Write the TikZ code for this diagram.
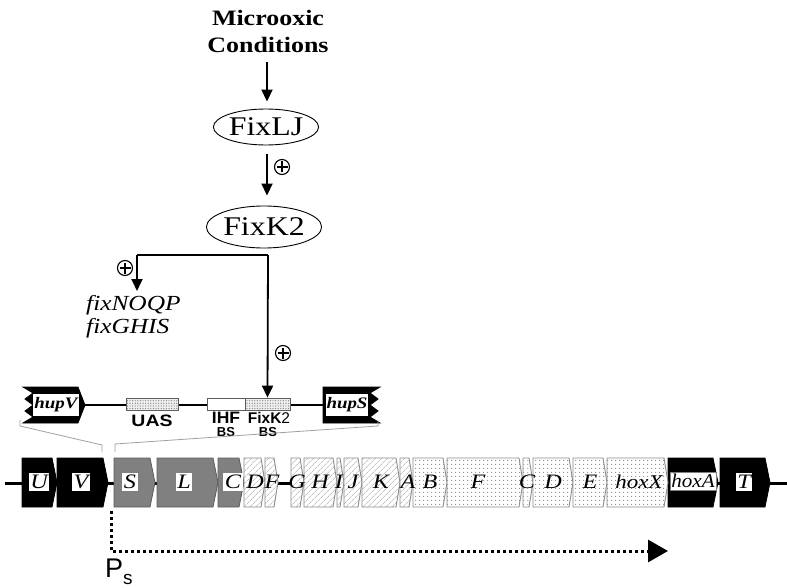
\documentclass[tikz,border=0pt]{standalone}
\usepackage{graphicx}
\usepackage{fontspec}
\setmainfont{Liberation Serif}
\setsansfont{Liberation Sans}
\usetikzlibrary{shapes.geometric,arrows.meta,patterns.meta}
\newcommand{\hs}[1]{\scalebox{1.18}[1]{#1}}
\newcommand{\hsa}[1]{\scalebox{1.06}[1]{#1}}
\definecolor{genegray}{HTML}{808080}
\definecolor{edgegray}{HTML}{5C5C5C}
\definecolor{lightedge}{HTML}{8C8C8C}
\begin{document}
\begin{tikzpicture}[x=1pt,y=-1pt,
  arr/.style={line width=1.8pt, -{Triangle[length=12pt,width=11pt]}},
  conn/.style={line width=1.8pt},
  zoomline/.style={draw=gray!75, line width=0.8pt},
  oplus/.style={circle, draw, line width=1.1pt, minimum size=15pt, inner sep=0pt,
    path picture={\draw[line width=1.1pt]
      ([yshift=-5.5pt]path picture bounding box.center) -- ([yshift=5.5pt]path picture bounding box.center)
      ([xshift=-5.5pt]path picture bounding box.center) -- ([xshift=5.5pt]path picture bounding box.center);}},
  protein/.style={ellipse, draw, line width=0.9pt, inner sep=0pt, font=\fontsize{27}{27}\selectfont},
  blackgene/.style={fill=black, draw=black, line width=0.8pt},
  graygene/.style={fill=genegray, draw=edgegray, line width=0.8pt},
  hatchgene/.style={draw=lightedge, line width=0.9pt, preaction={fill=white},
    pattern={Lines[angle=45,distance=4pt,line width=0.55pt]}, pattern color=gray!70},
  dotgene/.style={draw=lightedge, line width=0.9pt, preaction={fill=white},
    pattern={Dots[distance=4pt,radius=0.65pt]}, pattern color=gray!90},
  boxlab/.style={fill=white, inner sep=1.5pt, minimum height=18pt, text height=14pt, text depth=1pt,
    font=\fontsize{20.5}{20.5}\selectfont\itshape},
  freelab/.style={inner sep=0pt, font=\fontsize{20.5}{20.5}\selectfont\itshape},
  hoxlab/.style={font=\fontsize{19.5}{19.5}\selectfont\itshape},
  huplab/.style={fill=white, inner sep=1pt, minimum width=38pt, minimum height=22pt,
    font=\fontsize{16}{16}\selectfont\bfseries\itshape},
  siteslab/.style={inner sep=0pt, font=\sffamily\bfseries\fontsize{16.5}{16.5}\selectfont},
  bslab/.style={inner sep=0pt, font=\sffamily\bfseries\fontsize{13}{13}\selectfont},
  sitebox/.style={rectangle, draw=edgegray, line width=0.8pt, minimum height=12pt, inner sep=0pt},
  dotline/.style={line width=3pt, dash pattern=on 3pt off 3pt, -{Triangle[length=20pt,width=22pt,sep=0pt]}}
]
\useasboundingbox (0,0) rectangle (787,588);

% ---------- regulatory cascade ----------
\node[align=center, inner sep=0pt, font=\bfseries\fontsize{22}{27}\selectfont] (cond) at (268,31)
  {\hs{Microoxic}\\\hs{Conditions}};
\node[protein, minimum width=102pt, minimum height=36pt] (fixLJ) at (266,127) {\hs{FixLJ}};
\node[protein, minimum width=98pt, minimum height=42pt] (fixK2) at (264,227) {\hs{FixK2}};

\draw[arr, shorten <=10pt, shorten >=7pt] (cond.south -| 267,0) -- (fixLJ.north -| 267,0);
\draw[arr, shorten <=9pt, shorten >=10pt] (fixLJ.south -| 267,0) -- (fixK2.north -| 267,0);
\node[oplus] (plus1) at (282,167) {};

\coordinate (k2br) at (268,255);
\coordinate (k2bl) at (137,255);
\coordinate (noqpTop) at (137,291);
\draw[conn] (k2br) -- (k2bl);
\draw[arr] (k2bl) -- (noqpTop);
\node[oplus] (plus2) at (125,268) {};
\node[anchor=west, inner sep=0pt, font=\itshape\fontsize{21.5}{21.5}\selectfont] (noqp) at (86,305) {\hs{fixNOQP}};
\node[anchor=west, inner sep=0pt, font=\itshape\fontsize{21.5}{21.5}\selectfont] (ghis) at (86,328) {\hs{fixGHIS}};

% ---------- promoter region ----------
\coordinate (hupVtip) at (85,405);
\coordinate (hupSleft) at (323,405);
\draw[line width=1.8pt] (hupVtip) -- (hupSleft);

\path[blackgene] (23,387) -- (78,387) -- (85,405) -- (78,423) -- (23,423) -- (33,417) -- (25,411)
  -- (33,405) -- (25,399) -- (33,393) -- cycle;
\node[huplab] (hupV) at (56,405) {\hs{hupV}};
\path[blackgene] (323,387) -- (380,387) -- (370,393) -- (378,399) -- (370,405) -- (378,411)
  -- (370,417) -- (380,423) -- (323,423) -- cycle;
\node[huplab] (hupS) at (347,405) {\hs{hupS}};

\node[sitebox, minimum width=52pt, preaction={fill=gray!12},
  pattern={Dots[distance=2.6pt,radius=0.7pt]}, pattern color=gray!90] (uas) at (152,404) {};
\node[sitebox, minimum width=38pt, fill=white] (ihf) at (226,404) {};
\node[sitebox, minimum width=45pt, preaction={fill=gray!12},
  pattern={Dots[distance=2.6pt,radius=0.7pt]}, pattern color=gray!90] (fk2bs) at (267.5,404) {};

\node[siteslab] (uasT) at (152,421) {\hs{UAS}};
\node[siteslab] (ihfT) at (226,418) {\hsa{IHF}};
\node[bslab] (ihfB) at (226,432) {BS};
\node[siteslab, font=\sffamily\bfseries\fontsize{15.5}{15.5}\selectfont] (fkT) at (269,418) {FixK\textmd{2}};
\node[bslab] (fkB) at (268,432) {BS};

\draw[arr] (k2br) -- (fk2bs.north);
\node[oplus] (plus3) at (283,353) {};

% zoom lines
\coordinate (zl1) at (20,420); \coordinate (zl2) at (20,426);
\coordinate (zl3) at (102,445); \coordinate (zl4) at (102,452);
\coordinate (zr1) at (378,420); \coordinate (zr2) at (378,426);
\coordinate (zr3) at (115,444); \coordinate (zr4) at (115,452);
\draw[zoomline] (zl1) -- (zl2) -- (zl3) -- (zl4);
\draw[zoomline] (zr1) -- (zr2) -- (zr3) -- (zr4);

% ---------- gene row ----------
\coordinate (rowL) at (5,483);
\coordinate (rowR) at (787,483);
\draw[line width=3pt] (rowL) -- (rowR);

\foreach \a/\b in {22/57, 57/108, 668/718, 720/770}
  \path[blackgene] (\a,458) -- ({\b-5},458) -- (\b,482.5) -- ({\b-5},507) -- (\a,507) -- cycle;
\foreach \a/\b in {114/155, 157/218, 218/244}
  \path[graygene] (\a,458) -- ({\b-5},458) -- (\b,482.5) -- ({\b-5},507) -- (\a,507) -- cycle;
\foreach \a/\b in {244/265, 265/278, 291/304, 304/337, 337/344, 344/362, 362/400, 400/413}
  \path[hatchgene] (\a,458) -- ({\b-4},458) -- (\b,482.5) -- ({\b-4},507) -- (\a,507) -- cycle;
\foreach \a/\b in {413/447, 447/523, 523/533, 533/573, 573/607, 607/668}
  \path[dotgene] (\a,458) -- ({\b-4},458) -- (\b,482.5) -- ({\b-4},507) -- (\a,507) -- cycle;

\node[boxlab] (lU) at (39,482) {\hs{U}};
\node[boxlab] (lV) at (81,482) {\hs{V}};
\node[boxlab] (lS) at (130,482) {\hs{S}};
\node[boxlab] (lL) at (184,482) {\hs{L}};
\node[boxlab] (lC) at (233,482) {\hs{C}};
\node[freelab] (lD1) at (255,482) {\hs{D}};
\node[freelab] (lF1) at (272,482) {\hs{F}};
\node[freelab] (lG) at (297,482) {\hs{G}};
\node[freelab] (lH) at (320,482) {\hs{H}};
\node[freelab] (lI) at (339,482) {\hs{I}};
\node[freelab] (lJ) at (353,482) {\hs{J}};
\node[freelab] (lK) at (381,482) {\hs{K}};
\node[freelab] (lA) at (408,482) {\hs{A}};
\node[freelab] (lB) at (430,482) {\hs{B}};
\node[freelab] (lF2) at (478,482) {\hs{F}};
\node[freelab] (lC2) at (527,482) {\hs{C}};
\node[freelab] (lD2) at (553,482) {\hs{D}};
\node[freelab] (lE) at (590,482) {\hs{E}};
\node[freelab, hoxlab] (lX) at (639,482) {\hs{hoxX}};
\node[boxlab, hoxlab, draw=gray, line width=0.5pt] (lhA) at (693,481) {\scalebox{1.08}[1]{hoxA}};
\node[boxlab] (lT) at (744,482) {\hs{T}};

% ---------- promoter Ps ----------
\coordinate (psTop) at (111,511);
\coordinate (psCorner) at (111,551);
\coordinate (psEnd) at (668,551);
\draw[dotline] (psTop) -- (psCorner) -- (psEnd);
\node[anchor=north west, inner sep=0pt, font=\sffamily] (ps) at (105,559)
  {\fontsize{27}{27}\selectfont P\raisebox{-7pt}{\fontsize{19}{19}\selectfont s}};
\end{tikzpicture}
\end{document}
